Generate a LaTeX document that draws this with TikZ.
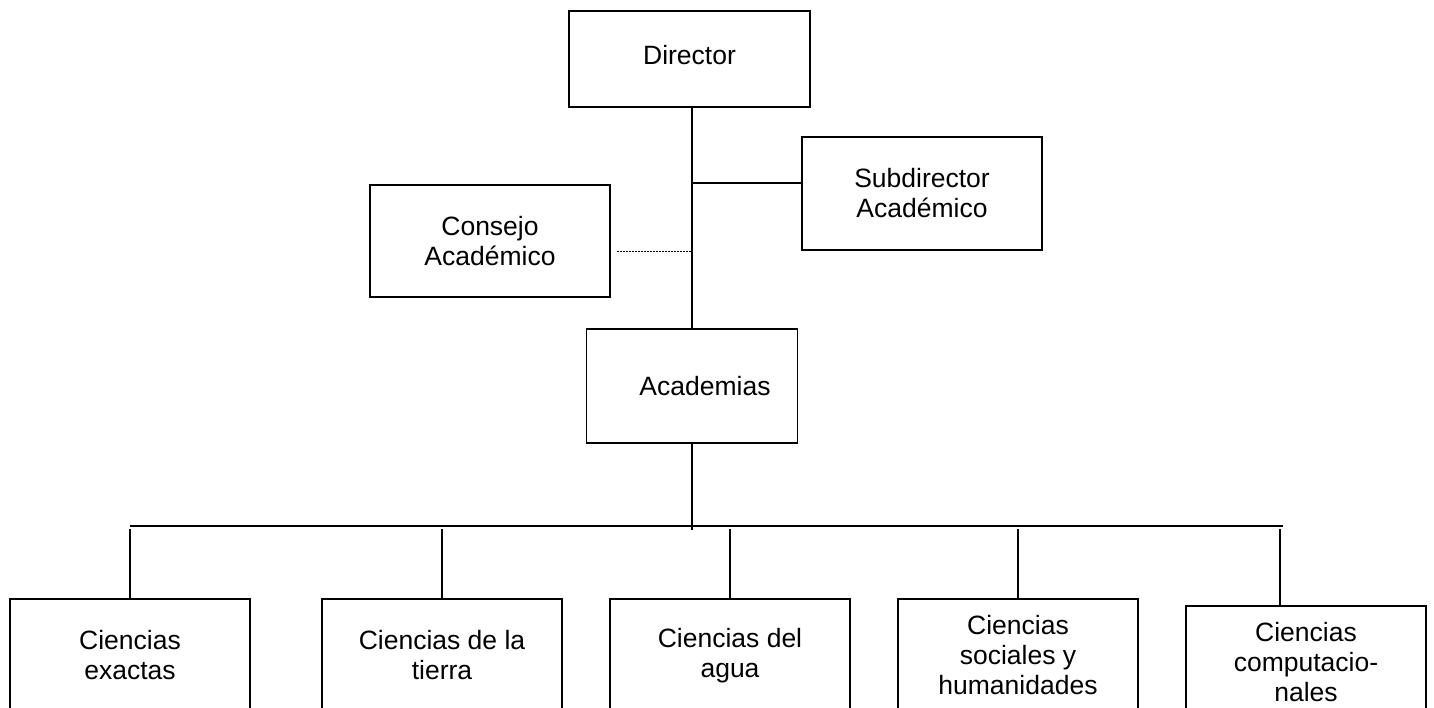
\documentclass[tikz,border=0pt]{standalone}
\usepackage{fontspec}
\setmainfont{Liberation Sans}
\begin{document}
\begin{tikzpicture}[x=1pt,y=-1pt,
  box/.style={draw,line width=1.6pt,minimum width=240pt,minimum height=113pt,inner sep=0pt,align=center,font=\fontsize{26.5}{30}\selectfont},
  link/.style={line width=1.6pt},
  dots/.style={line width=1pt,dash pattern=on 1.5pt off 1.5pt}]
\useasboundingbox (0,0) rectangle (1434,708);
\clip (0,0) rectangle (1434,708);
% upper nodes
\node[box,minimum width=241pt,minimum height=96pt] (dir) at (689.5,59) {\raisebox{8pt}{Director}};
\node[box] (sub) at (922,193.5) {Subdirector\\Académico};
\node[box,minimum height=112pt] (con) at (490,241) {Consejo\\Académico};
\node[box,minimum width=211pt,minimum height=114pt] (aca) at (692,386) {\hspace*{26pt}Academias};
% lower nodes
\node[box] (ex) at (130,655.5) {Ciencias\\exactas};
\node[box] (ti) at (442,655.5) {Ciencias de la\\tierra};
\node[box] (ag) at (730,655.5) {Ciencias del\\agua};
\node[box] (so) at (1018,655.5) {Ciencias\\sociales y\\humanidades};
\node[box] (co) at (1306,662.5) {Ciencias\\computacio-\\nales};
% helper coordinates
\coordinate (j1) at (692,183);
\coordinate (d1) at (617,252);
\coordinate (d2) at (692,252);
\coordinate (ab) at (692,530);
\coordinate (bl) at (130,526);
\coordinate (br) at (1283,526);
\coordinate (dropy) at (0,529);
\coordinate (cx) at (1280,529);
% connectors
\draw[link] (aca.north |- dir.south) -- (aca.north);
\draw[link] (j1) -- (j1 -| sub.west);
\draw[dots] (d1) -- (d2);
\draw[link] (aca.south) -- (ab);
\draw[link] (bl) -- (br);
\draw[link] (ex.north |- dropy) -- (ex.north);
\draw[link] (ti.north |- dropy) -- (ti.north);
\draw[link] (ag.north |- dropy) -- (ag.north);
\draw[link] (so.north |- dropy) -- (so.north);
\draw[link] (cx) -- (cx |- co.north);
\end{tikzpicture}
\end{document}
